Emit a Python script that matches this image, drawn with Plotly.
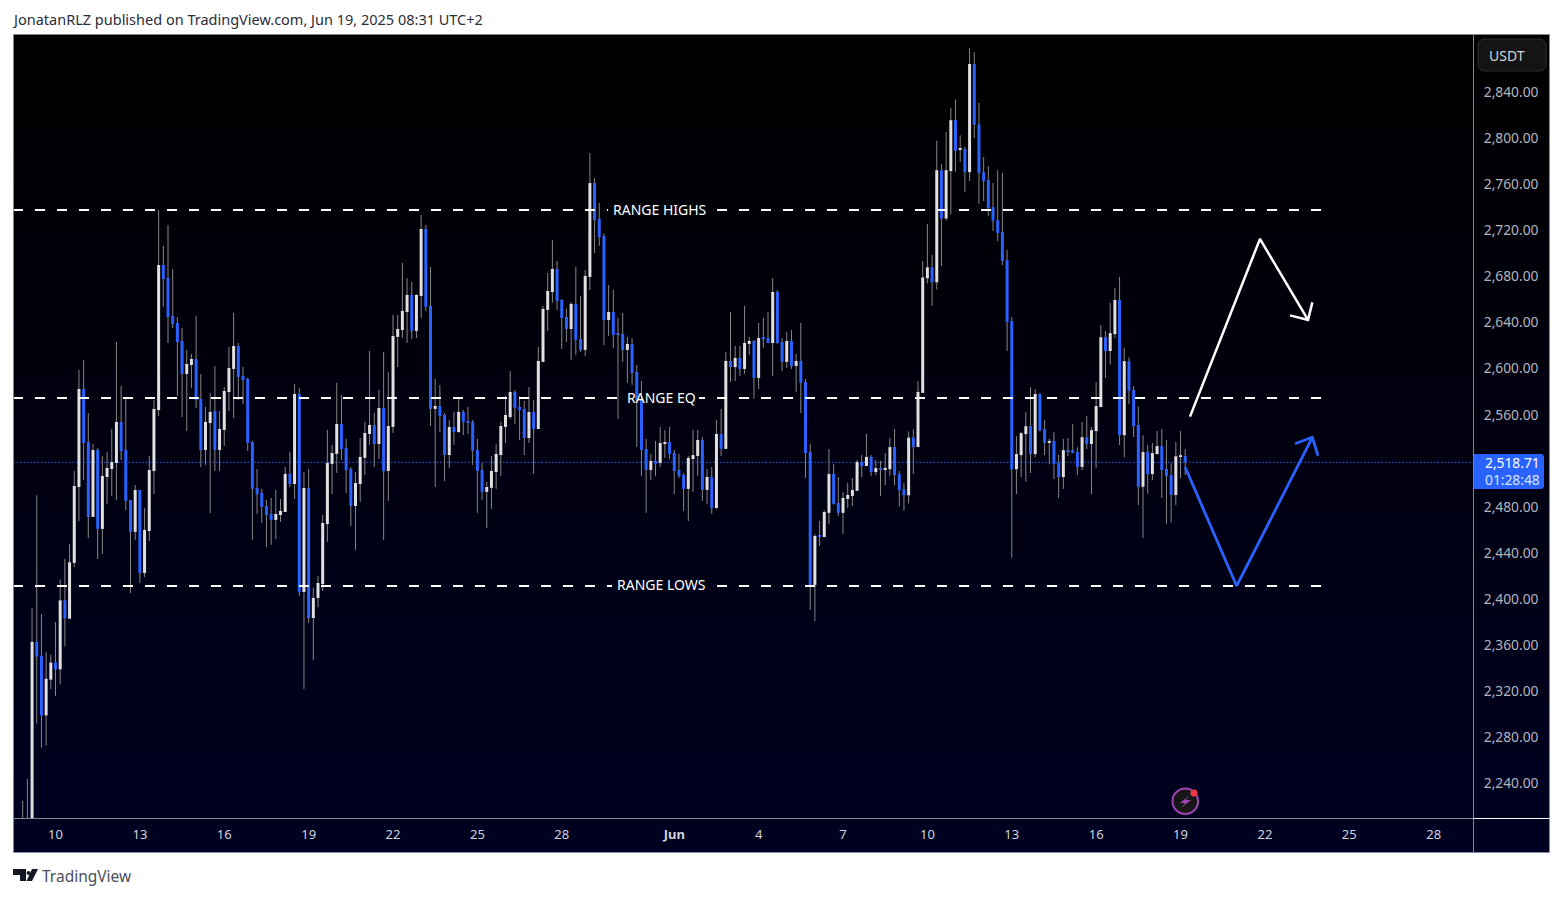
import pandas as pd
import plotly.graph_objects as go

W, H = 1563, 897

# ---- data (4h candles, USDT) ----
first_bar = "2025-05-08 22:00"
opens = [
2170,2180,2195,2363,2351,2299,2330,2345,2339,2399,
2383,2431.4,2497.3,2582.3,2536.3,2471.3,2529.4,2460.9,2506,2512.9,
2518.1,2553.7,2529.4,2486,2458.3,2494.7,2422.7,2459.1,2511.2,2564.1,
2689.9,2678.6,2645.7,2639.6,2624,2595.3,2603.1,2608.4,2573.6,2529.4,
2552.8,2563.2,2529.4,2546.8,2579.7,2599.7,2619.6,2593.6,2591,2536.3,
2496.4,2492.1,2480.8,2473.9,2468.7,2473,2475.6,2508.6,2499.9,2578,
2406.2,2496.4,2383.6,2401,2413,2465.2,2517.3,2526,2552,2531.2,
2512.9,2480.8,2499.9,2522.5,2543.3,2551.1,2534.6,2565.9,2511.2,2549.4,
2627.5,2633.5,2649.1,2663.9,2632.7,2663,2721.2,2654.4,2565,2567.6,
2559.8,2525,2549.4,2545,2562.4,2554.6,2553.7,2529.4,2512.1,2493,
2496.5,2510.3,2525,2549.4,2558,2579.7,2566.7,2565,2539.8,2562.4,
2547.6,2605.8,2650.9,2666.5,2686.4,2659.6,2644.8,2634.4,2656.1,2625.7,
2616.2,2679.5,2761,2729.8,2715.1,2642.2,2649.1,2630.5,2630,2616.2,
2621.4,2597.1,2572.8,2530.3,2512.1,2519.9,2518.1,2534.6,2536.4,2526.8,
2512.1,2507.7,2495.6,2521.6,2524.2,2538.1,2494.7,2506,2479.1,2543.3,
2530.3,2606.6,2601.4,2609.2,2599.7,2621.4,2624,2591.9,2627,2626.6,
2622.2,2666.5,2623.1,2605.8,2624,2602.3,2606.6,2588.4,2527.7,2412.3,
2455,2453.9,2474.8,2508.6,2483.4,2474.8,2486.9,2489.5,2493.9,2519,
2515.5,2523.4,2510.3,2513.8,2512.1,2512.6,2532,2508.5,2495.3,2490,
2540.2,2532,2578.9,2678.3,2688,2674.8,2772.2,2730.2,2771.3,2815.6,
2790,2790.7,2770.4,2864.3,2812,2770.4,2763.7,2740.2,2728.8,2718.5,
2694.2,2641.4,2512.6,2524.9,2543.1,2550.1,2525.8,2578,2547.5,2535.5,
2537.3,2518.2,2505.9,2529.2,2529.3,2527.6,2514.7,2540.5,2534.6,2545.8,
2566.6,2627.3,2615.3,2629.9,2659.5,2542.2,2606.5,2581.5,2551,2497.4,
2527.6,2508.5,2525.8,2532.8,2512.9,2507.6,2490.3,2523.4,2524.2]
highs = [
2225,2244,2392,2490,2387,2354,2352,2380,2417,2435,
2448,2511.2,2598.8,2607.5,2561.5,2534.6,2531.1,2524.2,2527.7,2547.6,
2623.1,2584.9,2574.5,2486,2499,2494.7,2479.1,2524.2,2572.8,2737.6,
2706.4,2724.6,2686.4,2644.8,2635.2,2616.2,2612.7,2645.7,2595.3,2566.7,
2578.9,2602.3,2563.2,2584,2618.8,2648.3,2622.2,2601.4,2591.9,2537.2,
2512.9,2495.6,2486,2487.8,2494.7,2486.9,2514.6,2527.7,2586.7,2583.2,
2510.3,2512.9,2410,2420,2473,2546.8,2533.8,2587.6,2577.1,2539,
2514.7,2510.3,2539.8,2553.7,2615.3,2561.5,2581.5,2614.4,2597.1,2646.5,
2646.5,2691.7,2678.6,2675.2,2664.8,2733.3,2724.6,2688.2,2591,2585.8,
2561.5,2555.4,2562.4,2574.5,2564.1,2566.7,2555.4,2539,2518.1,2501.7,
2524.2,2534.6,2553.7,2576.3,2598,2581.5,2575.7,2571.9,2584,2572.8,
2618.8,2654.4,2683,2711.6,2693.4,2660.4,2651.8,2657.8,2688.2,2663,
2685.6,2787.1,2765.4,2743.7,2717.4,2672.6,2668.2,2644,2648.3,2627.5,
2626.6,2603.2,2589.3,2539,2525.9,2537.2,2549.4,2546.8,2549.4,2529.4,
2526,2509.5,2524.2,2546.8,2546.8,2540.7,2513,2514.7,2555.4,2565,
2614.4,2649.1,2619.6,2619.6,2654.4,2627.5,2624.9,2639.6,2643.9,2649.1,
2678.6,2668.2,2626.6,2631.8,2633.5,2612.7,2639.6,2591,2534.6,2456.5,
2467.8,2477,2530.3,2517.3,2506,2493,2500.8,2505.1,2520.7,2525,
2543.3,2525,2520.7,2519.9,2526.8,2539.9,2547.5,2511.1,2500.6,2545.5,
2547.5,2589.2,2693.3,2725.5,2698.6,2797.7,2777.8,2805.3,2826.1,2833.5,
2802.4,2792.4,2878,2874.5,2830.5,2783.6,2775.7,2761,2772.2,2769.8,
2703,2644.6,2541.4,2544.9,2562.2,2583.9,2582.1,2578.6,2555.4,2539,
2544.9,2525,2539,2539.9,2551.9,2531.7,2553.7,2559,2549.3,2588.3,
2637.8,2632.6,2656.9,2669.8,2679.5,2617.9,2609.7,2584.8,2566.9,2542.2,
2533.7,2535.5,2545.8,2547.5,2538.1,2517.9,2536.4,2545.8,2530.2]
lows = [
2150,2150,2170,2292,2271,2273,2322,2316,2326,2359,
2383,2427.9,2467.8,2503.4,2453,2471.3,2434.8,2439.2,2482.6,2489.5,
2486,2520.7,2477.3,2405.3,2451.3,2414,2419.2,2450.5,2491.2,2558.9,
2653.5,2622.2,2635.2,2576.2,2558,2545.9,2583.2,2565.8,2514.6,2516.4,
2474.7,2511.2,2511.2,2532.9,2563.2,2557.2,2572.8,2569.3,2528.5,2451.3,
2473.9,2466.1,2445.2,2447,2452.2,2466.9,2475.6,2497.3,2486.9,2402.7,
2322,2379.3,2347,2393,2407,2449.6,2491.2,2509.5,2520.7,2492.1,
2463.5,2442.7,2484.3,2507.7,2533.8,2514.7,2521.6,2451.3,2485.2,2544.2,
2601.4,2626.6,2622.2,2625.7,2626.6,2643.9,2650,2550.2,2497.3,2545,
2502.5,2513.8,2533.8,2544.2,2542.4,2543.3,2516.4,2474.8,2486,2461.7,
2478.2,2495.6,2506.9,2535.5,2556.3,2552,2538.1,2525,2535.5,2508.6,
2547.6,2605.8,2632.7,2657,2650.9,2617,2623.1,2607.5,2611.8,2614.4,
2611,2668.2,2700.3,2706.4,2620.5,2628.3,2617.9,2556.3,2605.8,2587.6,
2585.8,2532,2506.9,2474.8,2503.4,2506.9,2514.7,2522.5,2521.6,2491.2,
2505.1,2476.5,2467.8,2493,2506.9,2485.2,2482.6,2473.9,2478.2,2524.2,
2530.3,2588.4,2589.3,2593.6,2595.4,2611.8,2573.7,2582.3,2617.9,2622.2,
2593.6,2621.4,2598,2600.6,2599.7,2579.7,2561.5,2505.1,2390.6,2381,
2446.1,2453.9,2465.2,2482,2472.2,2456.5,2479.1,2480.8,2493.9,2506,
2515.5,2506.9,2507.7,2489.5,2499,2507,2498.8,2480.3,2476.8,2483,
2508.5,2532,2578.9,2674,2654.6,2668.6,2688.9,2728.5,2733.8,2770.7,
2779.5,2753.1,2762.8,2800,2742.9,2745.5,2732.6,2719.4,2710.6,2689.8,
2615.3,2436.1,2491.2,2505.9,2501.8,2509.4,2523.2,2545.5,2525,2517,
2504.1,2487.7,2495.6,2524,2526.7,2507.6,2512,2530.2,2491.2,2513.8,
2566.6,2591.8,2603.5,2626.7,2533.7,2523.2,2569.2,2540.5,2481.5,2453.1,
2491.5,2503.2,2525.8,2487.7,2465.4,2466.3,2481.5,2505,2507.7]
closes = [
2190,2195,2363,2350,2299,2331,2345,2339,2399,2383,
2432,2498.2,2582.3,2535.5,2471.3,2529.4,2460.9,2506.8,2513.8,2519,
2553.7,2528.5,2485.2,2458.3,2494.7,2422.7,2460,2512,2565,2689.9,
2677.8,2644.8,2638.7,2623.1,2595.3,2604,2608.4,2572.8,2529.4,2553.7,
2562.4,2529.4,2547.6,2580.6,2600.5,2619.6,2592.7,2590.1,2535.5,2495.6,
2491.2,2480,2473,2468.7,2473.9,2476.5,2508.6,2499.9,2578,2406.2,
2496.4,2383.6,2401,2414,2466.1,2518.1,2526.8,2552,2530.3,2512.1,
2480.8,2500.8,2523.4,2544.2,2551.1,2534.6,2565.9,2511.2,2550.2,2628.3,
2634.4,2650,2663.9,2632.7,2663.9,2721.2,2653.5,2565,2567.6,2558.9,
2525,2549.4,2545,2562.4,2553.7,2552.8,2528.6,2511.2,2493,2497.3,
2511.2,2525.9,2550.2,2559.8,2579.7,2565.9,2564.1,2539.8,2562.4,2547.6,
2606.6,2651.8,2667.4,2686.4,2658.7,2643.9,2634.4,2656.1,2624.9,2616.2,
2680.4,2761,2729,2714.2,2642.2,2649.1,2629.2,2629.5,2616.2,2621.4,
2596.2,2572.8,2529.4,2512.1,2519.9,2517.6,2535.5,2536.4,2526,2511.2,
2506.9,2495.6,2522.5,2525,2538.1,2494.7,2506,2479.1,2543.3,2530.3,
2606.6,2601.4,2609.2,2599.7,2622.2,2624,2591.9,2626.6,2626,2622.2,
2666.5,2622.2,2605.8,2624,2602.3,2606.6,2587.6,2526.8,2412.3,2454.8,
2454,2475.6,2508.6,2482.6,2474.8,2487.8,2490.4,2494.7,2519,2515.5,
2523.4,2510.3,2513.8,2512.1,2513.8,2531.9,2507.6,2494.4,2490,2540.2,
2532,2579.8,2679.2,2688,2674.8,2772.2,2730.2,2772.2,2815.6,2788.9,
2791,2770.4,2864.3,2811.5,2769.8,2762.8,2739,2728.2,2717.6,2693.3,
2640.5,2512.6,2525.8,2544,2550.1,2525.8,2578,2546.3,2535.5,2537.3,
2517.3,2505.9,2529.3,2528.3,2526.7,2514.7,2540.5,2534.6,2546.6,2567.5,
2627.3,2615.3,2630.8,2659.5,2542.2,2606.5,2580.7,2550.1,2497.4,2527.6,
2508.5,2526.7,2532.8,2512,2506.7,2490.3,2524,2524.2,2518.71]

last_price = 2518.71
countdown = "01:28:48"
range_highs, range_eq, range_lows = 2737.6, 2574.5, 2411.4
price_ticks = [2240,2280,2320,2360,2400,2440,2480,2560,2600,2640,2680,2720,2760,2800,2840]
day_ticks = ["2025-05-10","2025-05-13","2025-05-16","2025-05-19","2025-05-22","2025-05-25","2025-05-28",
             "2025-06-01","2025-06-04","2025-06-07","2025-06-10","2025-06-13","2025-06-16","2025-06-19",
             "2025-06-22","2025-06-25","2025-06-28"]
day_labels = ["10","13","16","19","22","25","28","<b>Jun</b>","4","7","10","13","16","19","22","25","28"]

# forecast drawings: hours after the last candle, price
white_hours = [4.1, 63.8, 104.8]
white_prices = [2558.3, 2712.5, 2642.2]
white_head_hours = [89.4, 104.8, 108.5]
white_head_prices = [2646.2, 2642.2, 2657.5]
blue_hours = [0, 43.9, 108.5]
blue_prices = [2514.4, 2411.4, 2540.4]
blue_head_hours = [93.7, 108.5, 113.3]
blue_head_prices = [2534.8, 2540.4, 2524.4]

# ---- helpers ----
BLUE, LIGHT, WICK = "#2962ff", "#e0e0e0", "#868686"
dates = pd.date_range(first_bar, periods=len(closes), freq="4h")
last_bar = dates[-1]
def after(hours):
    return last_bar + pd.Timedelta(hours=hours)
def px(x):
    return x / W
def py(y):
    return 1 - y / H
def path(points, close=True):
    s = "M " + " L ".join(f"{px(a):.5f},{py(b):.5f}" for a, b in points)
    return s + (" Z" if close else "")

x_left = pd.Timestamp("2025-05-08 13:44")
x_right = pd.Timestamp("2025-06-29 11:35")

fig = go.Figure()

# bodies
for up, color in ((True, LIGHT), (False, BLUE)):
    idx = [i for i in range(len(closes)) if (closes[i] >= opens[i]) == up]
    fig.add_trace(go.Bar(
        x=[dates[i] for i in idx],
        y=[abs(closes[i] - opens[i]) for i in idx],
        base=[min(closes[i], opens[i]) for i in idx],
        width=3 / 28.125 * 86400000,
        marker=dict(color=color, line=dict(width=0)),
        showlegend=False, hoverinfo="skip"))

# wicks: only the parts outside each body, because line traces draw over bars
wx, wy = [], []
for d, o, h, l, c in zip(dates, opens, highs, lows, closes):
    top, bot = max(o, c), min(o, c)
    if h > top:
        wx += [d, d, None]
        wy += [top, h, None]
    if l < bot:
        wx += [d, d, None]
        wy += [l, bot, None]
fig.add_trace(go.Scatter(x=wx, y=wy, mode="lines", line=dict(color=WICK, width=1), hoverinfo="skip", showlegend=False))

# forecast arrows
for hrs, prc, hh, hp, col, lw in ((white_hours, white_prices, white_head_hours, white_head_prices, "#ffffff", 2.5),
                                  (blue_hours, blue_prices, blue_head_hours, blue_head_prices, BLUE, 2.8)):
    xs = [after(h) for h in hrs] + [None] + [after(h) for h in hh]
    ys = prc + [None] + hp
    fig.add_trace(go.Scatter(x=xs, y=ys, mode="lines", line=dict(color=col, width=lw), hoverinfo="skip", showlegend=False))

shapes = []
# background gradient, one band per 8-bit level; each band runs to the bottom so no seams show
top_px, bottom_px, levels = 35, 852, 34
for k in range(levels):
    y0 = top_px + (bottom_px - top_px) * k / levels
    shapes.append(dict(type="rect", xref="paper", yref="paper", x0=px(13), x1=px(1549), y0=py(bottom_px), y1=py(y0),
                       fillcolor=f"rgb(0,0,{k})", line=dict(width=0), layer="below"))

# last price line
shapes.append(dict(type="line", xref="x", yref="y", x0=x_left, x1=x_right, y0=last_price, y1=last_price,
                   line=dict(color=BLUE, width=1, dash="1.5px,2px"), layer="below"))

# range levels
dash = dict(color="#ffffff", width=2, dash="10px,12px")
for price, end_left in ((range_highs, -492.5), (range_eq, -484.8), (range_lows, -489.1)):
    shapes.append(dict(type="line", xref="x", yref="y", x0=x_left, x1=after(end_left), y0=price, y1=price, line=dash))
    shapes.append(dict(type="line", xref="x", yref="y", x0=after(-399.5), x1=after(117.6), y0=price, y1=price, line=dash))
shapes.append(dict(type="line", xref="x", yref="y", x0=after(-414.9), x1=after(-409.8), y0=range_eq, y1=range_eq,
                   line=dict(color="#ffffff", width=2)))

# frame
def pline(x0, y0, x1, y1, color, width=1):
    shapes.append(dict(type="line", xref="paper", yref="paper", x0=px(x0), x1=px(x1), y0=py(y0), y1=py(y1),
                       line=dict(color=color, width=width)))
GR = "#85858c"
pline(13.5, 34.5, 1549.5, 34.5, GR)
pline(13.5, 34.5, 13.5, 852.5, GR)
pline(1549.5, 34.5, 1549.5, 852.5, GR)
pline(13.5, 852.5, 1549.5, 852.5, "#8a8aa8")
pline(1473.5, 34.5, 1473.5, 852.5, GR)
pline(13.5, 818.5, 1473.5, 818.5, GR)
pline(1473.5, 818.5, 1549.5, 818.5, "#ffffff")

# USDT button
shapes.append(dict(type="path", xref="paper", yref="paper", fillcolor="#141414", line=dict(color="#2e2e2e", width=1),
                   path=path([(1482,39),(1542,39),(1546,43),(1546,67),(1542,71),(1482,71),(1478,67),(1478,43)])))
# price label
shapes.append(dict(type="path", xref="paper", yref="paper", fillcolor=BLUE, line=dict(width=0),
                   path=path([(1474,454),(1542,454),(1544,456),(1544,487),(1542,489),(1474,489)])))
# alert icon
shapes.append(dict(type="circle", xref="paper", yref="paper", x0=px(1172.5), x1=px(1198), y0=py(814), y1=py(788.5),
                   fillcolor="#161616", line=dict(color="#a044b4", width=2)))
shapes.append(dict(type="path", xref="paper", yref="paper", fillcolor="#a044b4", line=dict(width=0),
                   path=path([(1190,795),(1180,803),(1185,803),(1181,808),(1191,800),(1185.5,800)])))
shapes.append(dict(type="circle", xref="paper", yref="paper", x0=px(1190.5), x1=px(1197.5), y0=py(796.5), y1=py(789.5),
                   fillcolor="#f23645", line=dict(width=0)))
# TradingView mark
shapes.append(dict(type="path", xref="paper", yref="paper", fillcolor="#131722", line=dict(width=0),
                   path=path([(13,869),(26,869),(26,881),(20,881),(20,875),(13,875)])))
shapes.append(dict(type="path", xref="paper", yref="paper", fillcolor="#131722", line=dict(width=0),
                   path=path([(26.5,881),(32,869),(38,869),(32,881)])))
shapes.append(dict(type="circle", xref="paper", yref="paper", x0=px(26.5), x1=px(30.5), y0=py(875), y1=py(871),
                   fillcolor="#131722", line=dict(width=0)))

FONT = "Noto Sans"
def text(x, y, s, size, color, anchor="center"):
    return dict(xref="paper", yref="paper", x=px(x), y=py(y), text=s, showarrow=False, xanchor=anchor, yanchor="middle",
                font=dict(family=FONT, size=size, color=color))
annotations = [
    text(10, 19, "JonatanRLZ published on TradingView.com, Jun 19, 2025 08:31 UTC+2", 14.5, "#2a2e39", "left"),
    text(39.5, 876, "TradingView", 15.5, "#4a4e59", "left"),
    text(660, 209.5, "RANGE HIGHS", 14, "#ffffff"),
    text(661, 397.5, "RANGE EQ", 14, "#ffffff"),
    text(661, 584.5, "RANGE LOWS", 14, "#ffffff"),
    text(1506.5, 55, "USDT", 14, "#d1d4dc"),
    text(1512, 462.5, f"{last_price:,.2f}", 13.8, "#ffffff"),
    text(1512, 479, countdown, 13.8, "#d6e2ff"),
]

fig.update_layout(
    width=W, height=H, margin=dict(l=0, r=0, t=0, b=0),
    paper_bgcolor="#ffffff", plot_bgcolor="rgba(0,0,0,0)",
    barmode="overlay", showlegend=False, shapes=shapes, annotations=annotations,
    xaxis=dict(domain=[px(13), px(1473)], range=[x_left, x_right], type="date", showgrid=False, zeroline=False,
               tickmode="array", tickvals=[pd.Timestamp(d) + pd.Timedelta(hours=2) for d in day_ticks], ticktext=day_labels,
               ticks="outside", ticklen=4, tickcolor="rgba(0,0,0,0)", tickangle=0, showline=False,
               tickfont=dict(family=FONT, size=13, color="#d1d4dc")),
    yaxis=dict(domain=[py(818), py(35)], range=[2210.07, 2889.46], side="right", showgrid=False, zeroline=False,
               tickmode="array", tickvals=price_ticks, tickformat=",.2f",
               ticks="outside", ticklen=7, tickcolor="rgba(0,0,0,0)", showline=False,
               tickfont=dict(family=FONT, size=13.8, color="#b2b5be")),
)

fig.write_html("out.html", config=dict(displayModeBar=False),
               post_script="document.body.style.margin='0';document.documentElement.style.overflow='hidden';")
